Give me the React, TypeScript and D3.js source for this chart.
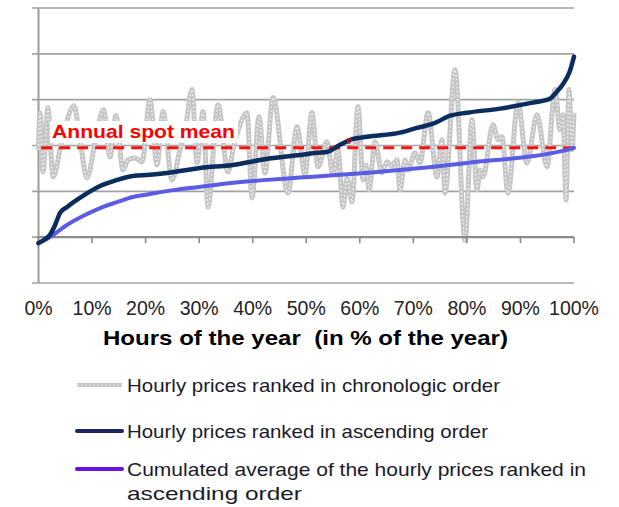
import React from "react";
import * as d3 from "d3";

const xTickLabels = ["0%", "10%", "20%", "30%", "40%", "50%", "60%", "70%", "80%", "90%", "100%"];
const xTicks = [0, 10, 20, 30, 40, 50, 60, 70, 80, 90, 100];
const yGrid = [-20, 0, 20, 40, 60, 80, 100];
const annualMean = 39;

// Hourly prices in chronological order: [percent of year, price]
const chronological: [number, number][] = [
  [0, 38.1], [0.28, 54.3], [0.84, 28.5], [1.77, 56.5], [2.71, 26.3], [4.39, 42.5], [6.63, 57.4], [7.75, 42.5],
  [9.06, 25.8], [10.64, 42.5], [12.14, 55.6], [13.35, 35.0], [14.47, 53.0], [15.78, 29.3], [16.71, 33.7],
  [18.02, 34.6], [19.33, 32.9], [20.82, 60.0], [22.13, 31.5], [23.25, 54.8], [24.93, 25.0], [26.42, 38.1],
  [27.54, 49.1], [28.66, 64.4], [29.6, 32.4], [30.72, 54.8], [31.65, 13.1], [33.52, 57.8], [35.39, 28.5],
  [36.32, 38.1], [37.44, 47.7], [38.94, 54.3], [39.87, 17.1], [41.18, 52.6], [42.3, 28.0], [43.79, 60.9],
  [46.59, 19.3], [48.27, 48.2], [49.77, 27.2], [51.07, 54.3], [52.19, 30.7], [53.87, 41.6], [55.0, 27.2],
  [55.93, 38.1], [56.86, 13.1], [57.61, 25.8], [58.54, 15.3], [59.66, 57.0], [60.6, 25.0], [61.16, 31.5],
  [61.72, 20.6], [62.84, 41.6], [64.14, 28.0], [65.08, 32.9], [66.01, 31.1], [66.95, 33.7], [67.51, 20.6],
  [68.44, 33.7], [69.0, 29.3], [70.31, 36.8], [71.24, 32.4], [72.74, 54.3], [74.42, 26.3], [75.35, 42.5],
  [75.91, 19.3], [77.78, 73.1], [79.65, -1.3], [80.95, 51.2], [81.89, 20.6], [82.45, 29.3], [83.01, 26.3],
  [84.87, 49.1], [85.81, 42.5], [86.55, 43.8], [87.67, 19.3], [89.54, 58.7], [91.22, 32.4], [93.09, 53.4],
  [94.96, 30.7], [96.45, 64.4], [97.39, 46.9], [97.95, 53.4], [98.51, 16.2], [99.07, 64.4], [99.63, 38.1],
  [100, 54.3],
];

// Hourly prices ranked in ascending order
const ascending: [number, number][] = [
  [0, -2.6], [1.2, -0.9], [2.1, 0.9], [3.1, 5.3], [4.0, 10.5], [5.3, 13.1], [8.3, 18.0], [11.5, 22.3],
  [14.7, 25.0], [17.6, 26.7], [20.8, 27.2], [24.0, 28.0], [30.2, 30.2], [36.3, 31.5], [42.7, 34.2],
  [48.8, 35.9], [52.0, 36.8], [53.9, 37.2], [56.3, 40.3], [58.2, 42.5], [61.3, 43.8], [67.5, 45.6],
  [70.7, 47.7], [73.7, 49.5], [76.9, 53.0], [80.0, 54.3], [86.2, 56.1], [89.4, 57.4], [92.3, 58.7],
  [95.5, 60.4], [96.8, 63.5], [97.9, 66.6], [99.2, 72.3], [100, 78.8],
];

// Cumulated average of the hourly prices ranked in ascending order
const cumulated: [number, number][] = [
  [0, -2.6], [2.1, 0], [5.3, 5.3], [8.3, 9.2], [11.5, 12.7], [14.7, 15.3], [17.6, 17.5], [20.8, 18.8],
  [24.0, 20.1], [30.0, 21.9], [36.4, 23.7], [42.7, 25.0], [48.8, 26.0], [67.5, 29.3], [80.0, 32.4],
  [98.7, 38.1], [100, 39],
];

const legendLabels = [
  ["Hourly prices ranked in chronologic order"],
  ["Hourly prices ranked in ascending order"],
  ["Cumulated average of the hourly prices ranked in", "ascending order"],
];
const legendWidths = [[373], [361], [459, 175]];

const FONT = "'Liberation Sans', Arial, Helvetica, sans-serif";

export default function App() {
  const x = d3.scaleLinear().domain([0, 100]).range([38.5, 574]);
  const y = d3.scaleLinear().domain([-20, 100]).range([283, 8]);

  const line = d3
    .line<[number, number]>()
    .x((d) => x(d[0]))
    .y((d) => y(d[1]))
    .curve(d3.curveMonotoneX);

  const grayPath = line(chronological) || "";
  const ascPath = line(ascending) || "";
  const cumPath = line(cumulated) || "";

  const legendY = [385, 431, 469];

  return (
    <svg
      width={619}
      height={507}
      style={{ position: "absolute", left: 0, top: 0, background: "#fff" }}
    >
      <rect x={0} y={0} width={619} height={507} fill="#fff" />
      {/* gridlines */}
      {yGrid.map((g) =>
        g === 0 ? null : (
          <line key={g} x1={32} x2={574} y1={y(g)} y2={y(g)} stroke="#a3a3a3" strokeWidth={1.6} />
        )
      )}
      {/* y axis */}
      <line x1={x(0)} x2={x(0)} y1={y(100)} y2={y(-20)} stroke="#9a9a9a" strokeWidth={2} />
      <line x1={32} x2={x(0)} y1={y(0)} y2={y(0)} stroke="#9a9a9a" strokeWidth={1.6} />

      {/* chronological (gray dotted) */}
      <path d={grayPath} fill="none" stroke="#c6c6c6" strokeWidth={5} strokeLinejoin="round" />
      <path
        d={grayPath}
        fill="none"
        stroke="#ffffff"
        strokeWidth={1.3}
        strokeDasharray="1.5 2.5"
        opacity={0.85}
      />

      {/* x axis */}
      <line x1={x(0)} x2={574} y1={y(0)} y2={y(0)} stroke="#8a8a8a" strokeWidth={2.4} />
      {xTicks.map((t) => (
        <line key={t} x1={x(t)} x2={x(t)} y1={y(0)} y2={y(0) + 6} stroke="#8a8a8a" strokeWidth={1.6} />
      ))}

      {/* annual mean */}
      <line
        x1={x(0.5)}
        x2={x(100.9)}
        y1={y(annualMean)}
        y2={y(annualMean)}
        stroke="#ff1010"
        strokeWidth={3}
        strokeDasharray="11 7"
      />

      {/* cumulated average */}
      <path d={cumPath} fill="none" stroke="#5b5be3" strokeWidth={4} strokeLinecap="round" />
      {/* ascending */}
      <path d={ascPath} fill="none" stroke="#0b2d5e" strokeWidth={4.5} strokeLinecap="round" strokeLinejoin="round" />

      {/* label */}
      <rect x={50} y={121} width={188} height={22} fill="#fff" />
      <text
        x={52}
        y={138}
        fill="#ff0000"
        fontFamily={FONT}
        fontWeight="bold"
        fontSize={19}
        textLength={183}
        lengthAdjust="spacingAndGlyphs"
      >
        Annual spot mean
      </text>
      <text x={346} y={144} fill="#ff0000" fontFamily={FONT} fontSize={10}>
        e
      </text>

      {/* x tick labels */}
      {xTicks.map((t, i) => (
        <text
          key={t}
          x={x(t)}
          y={315}
          textAnchor="middle"
          fontFamily={FONT}
          fontSize={19.5}
          fill="#222"
        >
          {xTickLabels[i]}
        </text>
      ))}
      <text
        x={103}
        y={345}
        fontFamily={FONT}
        fontWeight="bold"
        fontSize={21}
        fill="#000"
        textLength={405}
        lengthAdjust="spacingAndGlyphs"
      >
        Hours of the year&#160;&#160;(in % of the year)
      </text>

      {/* legend */}
      <line x1={77} x2={122} y1={legendY[0]} y2={legendY[0]} stroke="#c4c4c4" strokeWidth={4} />
      <line
        x1={77}
        x2={122}
        y1={legendY[0]}
        y2={legendY[0]}
        stroke="#fff"
        strokeWidth={1}
        strokeDasharray="1.5 2.5"
        opacity={0.85}
      />
      <line x1={77} x2={122} y1={legendY[1]} y2={legendY[1]} stroke="#1f2560" strokeWidth={4} strokeLinecap="round" />
      <line x1={77} x2={122} y1={legendY[2]} y2={legendY[2]} stroke="#6a12e0" strokeWidth={4} strokeLinecap="round" />
      {legendLabels.map((lines, i) =>
        lines.map((l, j) => (
          <text
            key={i + "-" + j}
            x={127}
            y={legendY[i] + 7 + j * 24}
            fontFamily={FONT}
            fontSize={19}
            fill="#1a1a2a"
            textLength={legendWidths[i][j]}
            lengthAdjust="spacingAndGlyphs"
          >
            {l}
          </text>
        ))
      )}
    </svg>
  );
}
